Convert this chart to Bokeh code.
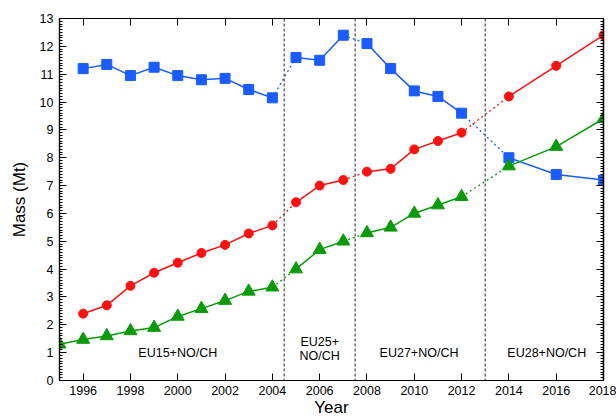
from bokeh.plotting import figure
from bokeh.models import LinearAxis, FixedTicker, Span, Label, Range1d
from bokeh.embed import file_html
from bokeh.resources import INLINE

# Data
seg1_years = [1996, 1997, 1998, 1999, 2000, 2001, 2002, 2003, 2004]
seg2_years = [2005, 2006, 2007]
seg3_years = [2008, 2009, 2010, 2011, 2012]
seg4_years = [2014, 2016, 2018]

blue = {
    "s1": [11.2, 11.35, 10.95, 11.25, 10.95, 10.8, 10.85, 10.45, 10.15],
    "s2": [11.6, 11.5, 12.4],
    "s3": [12.1, 11.2, 10.4, 10.2, 9.6],
    "s4": [8.0, 7.4, 7.2],
}
red = {
    "s1": [2.4, 2.7, 3.4, 3.87, 4.23, 4.58, 4.87, 5.28, 5.57],
    "s2": [6.4, 7.0, 7.2],
    "s3": [7.5, 7.6, 8.3, 8.6, 8.9],
    "s4": [10.2, 11.3, 12.4],
}
green_first_year = [1995]
green_first_value = [1.3]
green = {
    "s1": [1.47, 1.6, 1.78, 1.9, 2.3, 2.58, 2.87, 3.2, 3.35],
    "s2": [4.0, 4.7, 5.0],
    "s3": [5.3, 5.5, 6.0, 6.3, 6.6],
    "s4": [7.7, 8.4, 9.4],
}

boundaries = [2004.5, 2007.5, 2013.0]
region_labels = ["EU15+NO/CH", "EU25+\nNO/CH", "EU27+NO/CH", "EU28+NO/CH"]
region_x = [2000.0, 2006.0, 2010.2, 2015.6]
region_y = [0.97, 1.12, 0.97, 0.97]
x_ticks = [1996, 1998, 2000, 2002, 2004, 2006, 2008, 2010, 2012, 2014, 2016, 2018]
y_ticks = list(range(0, 14))
y_minor = [i / 10 for i in range(0, 131)]

FONT = "Liberation Sans"
BLUE = "#1a5cff"
RED = "#ff1010"
GREEN = "#0a9a0a"

p = figure(width=616, height=419, output_backend="svg", toolbar_location=None,
           x_range=Range1d(1995, 2018), y_range=Range1d(0, 13),
           min_border_left=59, min_border_right=13, min_border_top=18, min_border_bottom=39)
p.outline_line_color = "black"
p.outline_line_width = 1.2
p.grid.visible = False
p.background_fill_color = "white"

def style_axis(ax):
    ax.axis_line_color = "black"
    ax.axis_line_width = 1.2
    ax.major_tick_in = 7
    ax.major_tick_out = 0
    ax.minor_tick_in = 3
    ax.minor_tick_out = 0
    ax.major_tick_line_color = "black"
    ax.minor_tick_line_color = "black"
    ax.major_label_text_font = FONT
    ax.major_label_text_font_size = "12.5px"
    ax.major_label_text_color = "black"
    ax.axis_label_text_font = FONT
    ax.axis_label_text_font_style = "normal"
    ax.axis_label_text_color = "black"

p.xaxis.ticker = FixedTicker(ticks=x_ticks, minor_ticks=[])
p.yaxis.ticker = FixedTicker(ticks=y_ticks, minor_ticks=y_minor)
style_axis(p.xaxis[0])
style_axis(p.yaxis[0])
p.xaxis.axis_label = "Year"
p.xaxis.axis_label_text_font_size = "17px"
p.xaxis.axis_label_standoff = 0
p.xaxis.major_label_standoff = 5
p.yaxis.axis_label = "Mass (Mt)"
p.yaxis.axis_label_text_font_size = "17px"
p.yaxis.axis_label_standoff = 8
p.yaxis.major_label_standoff = 6

# Mirror ticks on top and right (minor-tick-only axes, no labels)
top = LinearAxis(ticker=FixedTicker(ticks=[], minor_ticks=x_ticks))
style_axis(top)
top.minor_tick_in = 7
p.add_layout(top, "above")
right_major = LinearAxis(ticker=FixedTicker(ticks=[], minor_ticks=y_ticks))
style_axis(right_major)
right_major.minor_tick_in = 7
p.add_layout(right_major, "right")
right_minor = LinearAxis(ticker=FixedTicker(ticks=[], minor_ticks=y_minor))
style_axis(right_minor)
right_minor.minor_tick_in = 3
p.add_layout(right_minor, "right")

for b in boundaries:
    p.add_layout(Span(location=b, dimension="height", line_color="#555555",
                      line_dash="3 2", line_width=1.3))

segs = [seg1_years, seg2_years, seg3_years, seg4_years]
keys = ["s1", "s2", "s3", "s4"]

def draw(series, color, marker, size, pre_x=None, pre_y=None):
    for i, k in enumerate(keys):
        xs = list(segs[i])
        ys = list(series[k])
        if i == 0 and pre_x is not None:
            xs = pre_x + xs
            ys = pre_y + ys
        p.line(xs, ys, line_color=color, line_width=1.5)
        p.scatter(xs, ys, marker=marker, size=size, fill_color=color, line_color=color)
        if i > 0:
            px = [segs[i - 1][-1], segs[i][0]]
            py = [series[keys[i - 1]][-1], series[k][0]]
            p.line(px, py, line_color=color, line_width=1.3, line_dash="2 3")

draw(blue, BLUE, "square", 10)
draw(red, RED, "circle", 9)
draw(green, GREEN, "triangle", 13, green_first_year, green_first_value)

for t, x, y in zip(region_labels, region_x, region_y):
    p.add_layout(Label(x=x, y=y, text=t, text_align="center", text_baseline="middle",
                       text_font=FONT, text_font_size="12.5px", text_color="black",
                       text_line_height=1.0))

open("out.html", "w").write(file_html(p, INLINE))
